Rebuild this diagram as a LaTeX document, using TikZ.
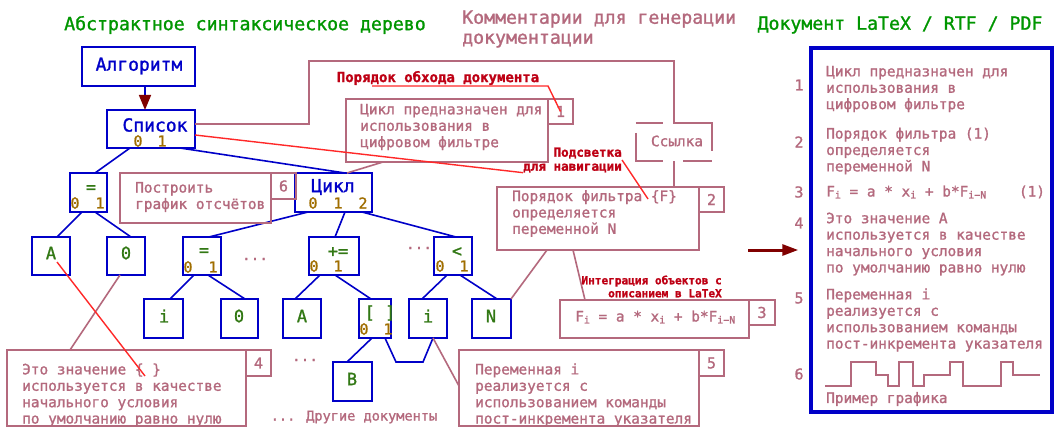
\documentclass[tikz,border=0pt]{standalone}
\usepackage{fontspec}
\setmainfont{DejaVu Sans Mono}[FakeBold=1.2]
\usetikzlibrary{arrows.meta}
\definecolor{tblue}{RGB}{0,0,200}
\definecolor{tgreen}{RGB}{0,150,0}
\definecolor{lgreen}{RGB}{50,120,20}
\definecolor{idxc}{RGB}{160,110,0}
\definecolor{pinkc}{RGB}{180,105,125}
\definecolor{lred}{RGB}{255,40,40}
\definecolor{dred}{RGB}{190,0,20}
\definecolor{arrc}{RGB}{128,0,0}
\newcommand\sbs[1]{\raisebox{-2pt}{\fontsize{10}{10}\selectfont #1}}
\begin{document}
\begin{tikzpicture}[x=1pt,y=-1pt,
  tbox/.style={draw=tblue,line width=2pt,inner sep=0,outer sep=0},
  cbox/.style={draw=pinkc,line width=1.7pt,inner sep=0,outer sep=0,text=pinkc,font=\fontsize{15}{17}\selectfont},
  tlab/.style={text=tblue,font=\fontsize{18}{20}\selectfont,inner sep=0},
  glab/.style={text=lgreen,font=\fontsize{17}{19}\selectfont,inner sep=0},
  ilab/.style={text=idxc,font=\fontsize{15}{17}\selectfont,inner sep=0},
  ctext/.style={text=pinkc,font=\fontsize{14.4}{16.4}\selectfont,align=left,anchor=west,inner sep=0},
  ntext/.style={text=pinkc,font=\fontsize{15}{17}\selectfont,inner sep=0},
  rtext/.style={text=dred,font=\bfseries\fontsize{12.6}{14}\selectfont,align=right,inner sep=0},
  title/.style={font=\fontsize{18.2}{20}\selectfont,inner sep=0},
  tedge/.style={draw=tblue,line width=1.6pt},
  cedge/.style={draw=pinkc,line width=1.6pt},
  redge/.style={draw=lred,line width=1.4pt},
]
\useasboundingbox (0,0) rectangle (1064,433);
\fill[white] (0,0) rectangle (1064,433);

% titles
\node[title,text=tgreen] (t1) at (245,25) {Абстрактное синтаксическое дерево};
\node[title,text=pinkc,align=left,anchor=west] (t2) at (462,29) {Комментарии для генерации\\документации};
\node[title,text=tgreen] (t3) at (900,25) {Документ LaTeX / RTF / PDF};

% tree boxes
\node[tbox,minimum width=113pt,minimum height=39pt] (alg) at (138.5,66.5) {};
\node[tlab] (algt) at (139,66) {Алгоритм};
\node[tbox,minimum width=88pt,minimum height=38pt] (lst) at (151,129) {};
\node[tlab] (lstt) at (155,125) {Список};
\node[ilab] (lst0) at (138,141) {0};
\node[ilab] (lst1) at (162,141) {1};

\node[tbox,minimum width=37pt,minimum height=39pt] (eqA) at (88.5,192.5) {};
\node[glab] (eqAt) at (91,189) {=};
\node[ilab] (eqA0) at (75,203) {0};
\node[ilab] (eqA1) at (100,203) {1};

\node[tbox,minimum width=77pt,minimum height=39pt] (cyc) at (333.5,192.5) {};
\node[tlab] (cyct) at (333,187) {Цикл};
\node[ilab] (cyc0) at (313,203) {0};
\node[ilab] (cyc1) at (338,203) {1};
\node[ilab] (cyc2) at (363,203) {2};

\node[tbox,minimum width=38pt,minimum height=38pt] (a1) at (51,256) {};
\node[glab] (a1t) at (51,253) {A};
\node[tbox,minimum width=38pt,minimum height=38pt] (z1) at (126,256) {};
\node[glab] (z1t) at (126,253) {0};
\node[tbox,minimum width=38pt,minimum height=38pt] (eqB) at (202,256) {};
\node[glab] (eqBt) at (204,252) {=};
\node[ilab] (eqB0) at (188,267) {0};
\node[ilab] (eqB1) at (213,267) {1};
\node[tbox,minimum width=50pt,minimum height=38pt] (pe) at (334,256) {};
\node[glab] (pet) at (338,252) {+=};
\node[ilab] (pe0) at (314,266) {0};
\node[ilab] (pe1) at (338,266) {1};
\node[tbox,minimum width=38pt,minimum height=38pt] (lt) at (453,256) {};
\node[glab] (ltt) at (457,252) {<};
\node[ilab] (lt0) at (440,266) {0};
\node[ilab] (lt1) at (464,266) {1};

\node[tbox,minimum width=39pt,minimum height=39pt] (i1) at (163.5,318.5) {};
\node[glab] (i1t) at (164,316) {i};
\node[tbox,minimum width=37pt,minimum height=39pt] (z2) at (239.5,318.5) {};
\node[glab] (z2t) at (239,316) {0};
\node[tbox,minimum width=38pt,minimum height=39pt] (a2) at (302,318.5) {};
\node[glab] (a2t) at (302,316) {A};
\node[tbox,minimum width=32pt,minimum height=39pt] (br) at (375,318.5) {};
\node[glab] (brt) at (380,313) {[ ]};
\node[ilab] (br0) at (364,329) {0};
\node[ilab] (br1) at (388,329) {1};
\node[tbox,minimum width=38pt,minimum height=39pt] (i2) at (428,318.5) {};
\node[glab] (i2t) at (428,316) {i};
\node[tbox,minimum width=39pt,minimum height=39pt] (nn) at (491.5,318.5) {};
\node[glab] (nnt) at (491,316) {N};
\node[tbox,minimum width=39pt,minimum height=39pt] (bb) at (352.5,381.5) {};
\node[glab] (bbt) at (352,379) {B};

% dots
\node[ctext,anchor=base] (dots1) at (255,260) {...};
\node[ctext,anchor=base] (dots2) at (419,249) {...};
\node[ctext,anchor=base] (dots3) at (305,361) {...};
\node[ctext,anchor=center,font=\fontsize{13.6}{16}\selectfont] (other) at (354,417) {... Другие документы};

% tree edges
\draw[tedge,-{Triangle[length=15pt,width=12pt,color=arrc]}] ([xshift=6.5pt]alg.south) -- ([xshift=-6pt]lst.north);
\draw[tedge] ([xshift=-21pt]lst.south) -- ([xshift=6.5pt]eqA.north);
\draw[tedge] ([xshift=29pt]lst.south) -- ([xshift=11.5pt]cyc.north);
\draw[tedge] ([xshift=-6.5pt]eqA.south) -- ([xshift=6pt]a1.north);
\draw[tedge] ([xshift=6.5pt]eqA.south) -- ([xshift=5pt]z1.north);
\draw[tedge] ([xshift=-25.5pt]cyc.south) -- ([xshift=7pt]eqB.north);
\draw[tedge] ([xshift=11.5pt]cyc.south) -- ([xshift=1pt]pe.north);
\draw[tedge] ([xshift=28.5pt]cyc.south) -- ([xshift=3pt]lt.north);
\draw[tedge] ([xshift=-8pt]eqB.south) -- ([xshift=6.5pt]i1.north);
\draw[tedge] ([xshift=6pt]eqB.south) -- ([xshift=5.5pt]z2.north);
\draw[tedge] ([xshift=-14pt]pe.south) -- ([xshift=-7pt]a2.north);
\draw[tedge] ([xshift=1pt]pe.south) -- ([xshift=-4pt]br.north);
\draw[tedge] ([xshift=-6pt]lt.south) -- ([xshift=-6pt]i2.north);
\draw[tedge] ([xshift=7pt]lt.south) -- ([xshift=5.5pt]nn.north);
\draw[tedge] ([xshift=-3pt]br.south) -- ([xshift=-5.5pt]bb.north);
\draw[tedge] ([xshift=10pt]br.south) -- ++(11,24) -- ++(27,0) -- ([xshift=5pt]i2.south);

% comment boxes
\node[cbox,minimum width=202pt,minimum height=63pt] (c1) at (447,130.5) {};
\node[cbox,minimum width=25pt,minimum height=25pt] (n1) at (560.5,111.5) {1};
\node[ctext] (c1t) at (360,127) {Цикл предназначен для\\использования в\\цифровом фильтре};

\node[cbox,minimum width=151pt,minimum height=50pt] (c6) at (195.5,198) {};
\node[cbox,minimum width=25pt,minimum height=26pt] (n6) at (283.5,186) {6};
\node[ctext] (c6t) at (135,197) {Построить\\график отсчётов};

\node[cbox,minimum width=202pt,minimum height=63pt] (c2) at (598,218.5) {};
\node[cbox,minimum width=25pt,minimum height=25pt] (n2) at (711.5,199.5) {2};
\node[ctext] (c2t) at (512,213.5) {Порядок фильтра \{F\}\\определяется\\переменной N};

\node[cbox,minimum width=189pt,minimum height=38pt] (c3) at (654.5,319) {};
\node[cbox,minimum width=26pt,minimum height=25pt] (n3) at (762,312.5) {3};
\node[ctext] (c3t) at (575,317) {F\sbs{i} = a * x\sbs{i} + b*F\sbs{i−N}};

\node[cbox,minimum width=240pt,minimum height=76pt] (c5) at (579,388) {};
\node[cbox,minimum width=25pt,minimum height=26pt] (n5) at (711.5,363) {5};
\node[ctext] (c5t) at (475,395) {Переменная i\\реализуется с\\использованием команды\\пост-инкремента указателя};

\node[cbox,minimum width=239pt,minimum height=76pt] (c4) at (126.5,388) {};
\node[cbox,minimum width=25pt,minimum height=26pt] (n4) at (258.5,363) {4};
\node[ctext] (c4t) at (22,395) {Это значение \{ \}\\используется в качестве\\начального условия\\по умолчанию равно нулю};

% link box
\node[inner sep=0,minimum width=76pt,minimum height=38pt] (link) at (674,142) {};
\node[ctext,anchor=center] (linkt) at (677,141) {Ссылка};
\draw[cedge] (link.north west) -- ++(27,0);
\draw[cedge] ([xshift=-1pt]link.north) -- (link.north east) -- ++(0,28);
\draw[cedge] ([yshift=-10pt]link.north west) -- (link.south west) -- ++(27,0);
\draw[cedge] ([xshift=9pt]link.south) -- (link.south east);

% comment connectors
\draw[cedge] ([yshift=5pt]lst.east) -- (309,124) -- (309,61) -- (674,61) -- (link.north);
\draw[cedge] (link.south) -- (link.south |- c2.north);
\draw[cedge] ([xshift=-64pt]c1.south) -- ([xshift=13.5pt]cyc.north);
\draw[cedge] ([xshift=-51pt]c2.south) -- (nn.north east);
\draw[cedge] ([xshift=-25pt]c2.south) -- ([xshift=-69.5pt]c3.north);
\draw[cedge] ([xshift=-6pt]z1.south) -- ([xshift=-56.5pt]c4.north);
\draw[cedge] ([xshift=5pt]i2.south) -- ([yshift=2pt]c5.west);

% red texts and lines
\node[rtext,font=\bfseries\fontsize{14}{16}\selectfont] (tord) at (438,78) {Порядок обхода документа};
\coordinate (u1) at (372,86);
\draw[redge] (u1) -- (548,86) -- (n1.center);
\node[rtext,anchor=east] (tnav) at (622,160) {Подсветка\\для навигации};
\draw[redge] ([yshift=-6pt]lst.east) -- (tnav.south west);
\coordinate (fmark) at (648,199);
\draw[redge] (tnav.east) -- (fmark);
\node[rtext,anchor=east,font=\bfseries\fontsize{11.1}{13}\selectfont] (tint) at (722,286.5) {Интеграция объектов с\\описанием в LaTeX};
\coordinate (brace) at (145,376);
\draw[redge] ([xshift=6pt,yshift=-6pt]a1.center) -- (brace);

% document
\node[draw=tblue,line width=3.5pt,inner sep=0,minimum width=241pt,minimum height=364pt] (doc) at (931.5,230) {};
\coordinate (ar0) at (748,250);
\draw[arrc,line width=3pt,-{Triangle[length=16pt,width=11pt]}] (ar0) -- ([xshift=-11pt]doc.west |- ar0);
\node[ntext] (dn1) at (799,85) {1};
\node[ntext] (dn2) at (799,142) {2};
\node[ntext] (dn3) at (799,192) {3};
\node[ntext] (dn4) at (799,223) {4};
\node[ntext] (dn5) at (799,298) {5};
\node[ntext] (dn6) at (799,374) {6};
\node[ctext] (d1) at (826,89) {Цикл предназначен для\\использования в\\цифровом фильтре};
\node[ctext] (d2) at (826,151) {Порядок фильтра (1)\\определяется\\переменной N};
\node[ctext] (d3) at (826,192) {F\sbs{i} = a * x\sbs{i} + b*F\sbs{i−N}};
\node[ctext,anchor=center] (d3n) at (1032,192) {(1)};
\node[ctext] (d4) at (826,244) {Это значение A\\используется в качестве\\начального условия\\по умолчанию равно нулю};
\node[ctext] (d5) at (826,320) {Переменная i\\реализуется с\\использованием команды\\пост-инкремента указателя};
\draw[pinkc,line width=2pt] (825,386) -- (851,386) -- (851,362) -- (876,362) -- (876,375) -- (888,375) -- (888,386) -- (899,386) -- (899,362) -- (913,362) -- (913,386) -- (924,386) -- (924,375) -- (950,375) -- (950,362) -- (963,362) -- (963,386) -- (1001,386) -- (1001,362) -- (1013,362) -- (1013,375) -- (1040,375);
\node[ctext] (d6) at (826,399) {Пример графика};
\end{tikzpicture}
\end{document}
